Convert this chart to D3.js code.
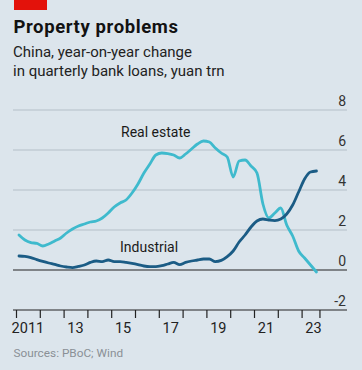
<!DOCTYPE html>
<html><head><meta charset="utf-8">
<script src="https://cdn.jsdelivr.net/npm/d3@7"></script>
<style>html,body{margin:0;padding:0;background:#dce5ec;}svg{display:block;}</style>
</head><body>
<svg id="c" width="362" height="370"></svg>
<script>
const startYear = 2011.125, step = 0.25;
const realEstate = [1.75,1.5,1.37,1.33,1.2,1.3,1.45,1.6,1.85,2.05,2.2,2.3,2.4,2.45,2.6,2.85,3.15,3.35,3.5,3.85,4.3,4.85,5.3,5.75,5.85,5.82,5.75,5.6,5.8,6.05,6.3,6.45,6.4,6.1,5.85,5.65,4.65,5.45,5.5,5.2,4.85,3.3,2.6,2.85,3.1,2.25,1.7,0.95,0.6,0.25,-0.1];
const industrial = [0.7,0.68,0.62,0.52,0.43,0.35,0.28,0.2,0.15,0.12,0.18,0.25,0.38,0.45,0.42,0.5,0.42,0.42,0.38,0.33,0.27,0.2,0.17,0.17,0.22,0.3,0.38,0.27,0.38,0.45,0.5,0.55,0.55,0.42,0.48,0.67,0.95,1.4,1.75,2.15,2.45,2.55,2.5,2.47,2.55,2.8,3.25,3.9,4.55,4.9,4.95];
const yTicks = [-2,0,2,4,6,8];
const xTickYears = [2011,2012,2013,2014,2015,2016,2017,2018,2019,2020,2021,2022,2023,2023.75];
const xLabels = [[2011,"2011"],[2013,"13"],[2015,"15"],[2017,"17"],[2019,"19"],[2021,"21"],[2023,"23"]];

const svg = d3.select("#c");
const font = "Roboto, 'Noto Sans', sans-serif";
const x = d3.scaleLinear().domain([2011, 2024]).range([16, 325.4]);
const y = d3.scaleLinear().domain([-2, 8]).range([310, 110]);

svg.append("rect").attr("x",0).attr("y",0).attr("width",362).attr("height",370).attr("fill","#dce5ec");
svg.append("rect").attr("x",14).attr("y",0).attr("width",33).attr("height",10).attr("fill","#e3120b");

svg.append("text").attr("x",13.5).attr("y",33).attr("font-family",font).attr("font-weight",700)
  .attr("font-size",18.5).attr("letter-spacing",0.6).attr("fill","#121212").text("Property problems");
svg.append("text").attr("x",13).attr("y",56.5).attr("font-family",font)
  .attr("font-size",15).attr("fill","#222").text("China, year-on-year change");
svg.append("text").attr("x",13).attr("y",75.5).attr("font-family",font)
  .attr("font-size",15).attr("fill","#222").text("in quarterly bank loans, yuan trn");

// gridlines
svg.append("g").selectAll("line").data(yTicks.filter(d=>d!==0 && d!==-2)).join("line")
  .attr("x1",13).attr("x2",347).attr("y1",d=>y(d)).attr("y2",d=>y(d))
  .attr("stroke","#b4bfc8").attr("stroke-width",1);
svg.append("g").selectAll("text").data(yTicks).join("text")
  .attr("x",346).attr("y",d=>y(d)-4).attr("text-anchor","end")
  .attr("font-family",font).attr("font-size",14).attr("fill","#333")
  .text(d=>d);

// x axis
const xAxis = d3.axisBottom(x).tickValues(xTickYears).tickSize(8).tickFormat("");
const gx = svg.append("g").attr("transform",`translate(0,${y(-2)})`).call(xAxis);
gx.select(".domain").remove();
gx.selectAll(".tick line").attr("stroke","#222").attr("stroke-width",1.2);
svg.append("line").attr("x1",13).attr("x2",347).attr("y1",y(-2)).attr("y2",y(-2)).attr("stroke","#222").attr("stroke-width",1.2);
svg.append("g").selectAll("text").data(xLabels).join("text")
  .attr("x",d=>x(d[0]+0.5)).attr("y",333).attr("text-anchor","middle")
  .attr("font-family",font).attr("font-size",14.5).attr("fill","#222").text(d=>d[1]);

svg.append("line").attr("x1",13).attr("x2",347).attr("y1",y(0)).attr("y2",y(0)).attr("stroke","#222").attr("stroke-width",1.2);

const line = d3.line().x((d,i)=>x(startYear+i*step)).y(d=>y(d)).curve(d3.curveMonotoneX);
svg.append("path").datum(realEstate).attr("d",line).attr("fill","none")
  .attr("stroke","#3fbacd").attr("stroke-width",2.8).attr("stroke-linejoin","round").attr("stroke-linecap","round");
svg.append("path").datum(industrial).attr("d",line).attr("fill","none")
  .attr("stroke","#1b5c85").attr("stroke-width",2.8).attr("stroke-linejoin","round").attr("stroke-linecap","round");

svg.append("text").attr("x",121).attr("y",136.5).attr("font-family",font).attr("font-size",14).attr("fill","#1a1a1a").text("Real estate");
svg.append("text").attr("x",120).attr("y",251.5).attr("font-family",font).attr("font-size",14).attr("fill","#1a1a1a").text("Industrial");

svg.append("text").attr("x",13.5).attr("y",356.5).attr("font-family",font).attr("font-size",11.8).attr("fill","#8a9096").text("Sources: PBoC; Wind");
</script>
</body></html>
